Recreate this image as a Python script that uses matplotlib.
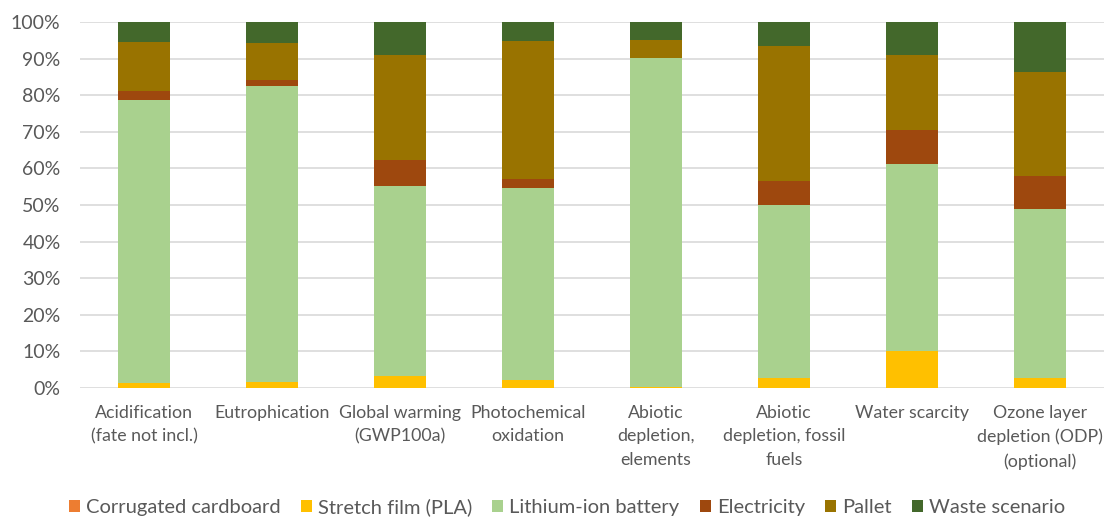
import matplotlib
matplotlib.use("Agg")
import matplotlib.pyplot as plt
import numpy as np

categories = [
    "Acidification\n(fate not incl.)",
    "Eutrophication",
    "Global warming\n(GWP100a)",
    "Photochemical\noxidation",
    "Abiotic\ndepletion,\nelements",
    "Abiotic\ndepletion, fossil\nfuels",
    "Water scarcity",
    "Ozone layer\ndepletion (ODP)\n(optional)",
]

# Share of each life-cycle stage per impact category (%)
corrugated_cardboard = [0.1, 0.1, 0.1, 0.1, 0.1, 0.1, 0.1, 0.1]
stretch_film_pla = [1.4, 1.6, 3.2, 2.0, 0.2, 2.6, 10.0, 2.5]
lithium_ion_battery = [77.2, 80.8, 52.0, 52.6, 89.9, 47.2, 51.2, 46.4]
electricity = [2.4, 1.6, 7.0, 2.5, 0.1, 6.6, 9.3, 8.9]
pallet = [13.5, 10.2, 28.8, 37.7, 4.8, 36.9, 20.5, 28.5]
waste_scenario = [5.4, 5.7, 8.9, 5.1, 4.9, 6.6, 8.9, 13.6]

series = [
    ("Corrugated cardboard", corrugated_cardboard, "#ED7D31"),
    ("Stretch film (PLA)", stretch_film_pla, "#FFC000"),
    ("Lithium-ion battery", lithium_ion_battery, "#A9D18E"),
    ("Electricity", electricity, "#9E480E"),
    ("Pallet", pallet, "#997300"),
    ("Waste scenario", waste_scenario, "#43682B"),
]

plt.rcParams["font.family"] = ["Lato", "DejaVu Sans"]
text_color = "#595959"

fig = plt.figure(figsize=(11.09, 5.18), dpi=100)
ax = fig.add_axes([80 / 1109, 1 - 388 / 518, 1024 / 1109, 366 / 518])

x = np.arange(len(categories))
bottom = np.zeros(len(categories))
for name, values, color in series:
    vals = np.array(values, dtype=float)
    ax.bar(x, vals, bottom=bottom, width=0.4, color=color, label=name,
           edgecolor="none", zorder=3)
    bottom += vals

ax.set_xlim(-0.5, len(categories) - 0.5)
ax.set_ylim(0, 100)
ax.set_yticks(np.arange(0, 101, 10))
ax.set_yticklabels([f"{v}%" for v in range(0, 101, 10)])
ax.set_xticks(x)
ax.set_xticklabels(categories, linespacing=1.6)
ax.grid(axis="y", color="#D9D9D9", linewidth=1.2, zorder=0)
for s in ax.spines.values():
    s.set_visible(False)
ax.tick_params(axis="both", length=0, colors=text_color)
ax.tick_params(axis="x", pad=12, labelsize=12.8)
ax.tick_params(axis="y", pad=14, labelsize=14)

leg = fig.legend(loc="center", bbox_to_anchor=(567 / 1109, 1 - 507 / 518),
                 ncol=6, frameon=False, fontsize=14.5, handlelength=0.55,
                 handleheight=0.55, handletextpad=0.3, columnspacing=1.0)
for t in leg.get_texts():
    t.set_color(text_color)

fig.savefig("out.png", dpi=100)
